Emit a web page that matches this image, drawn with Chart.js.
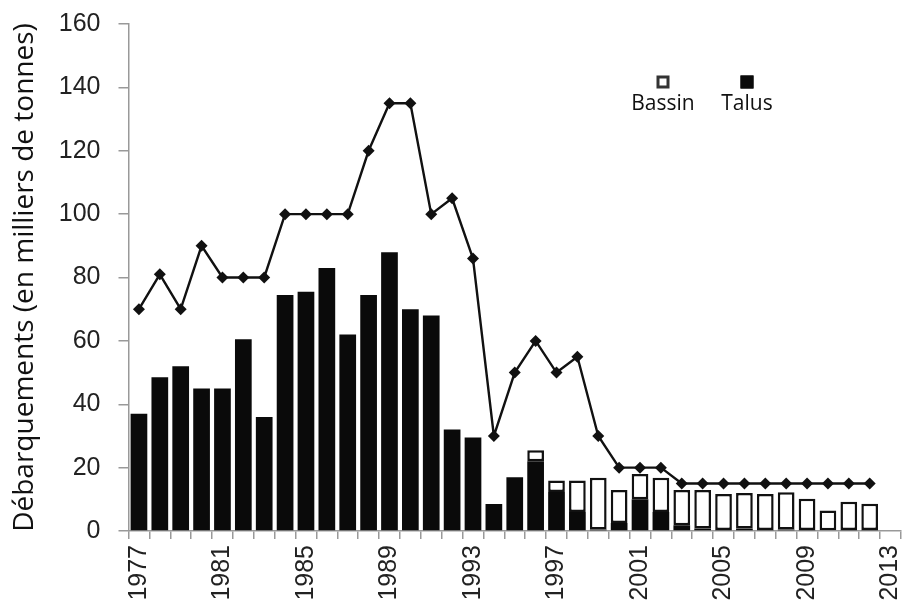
<!DOCTYPE html>
<html>
<head>
<meta charset="utf-8">
<script src="https://cdn.jsdelivr.net/npm/chart.js@4/dist/chart.umd.min.js"></script>
<style>
    html, body { margin: 0; padding: 0; background: #fff; }
    #wrap { width: 907px; height: 602px; }
</style>
</head>
<body>
<div id="wrap"><canvas id="chart" width="907" height="602"></canvas></div>
<script>
// années 1977-2013 (2013 sans données)
const years = [1977, 1978, 1979, 1980, 1981, 1982, 1983, 1984, 1985, 1986,
    1987, 1988, 1989, 1990, 1991, 1992, 1993, 1994, 1995, 1996,
    1997, 1998, 1999, 2000, 2001, 2002, 2003, 2004, 2005, 2006,
    2007, 2008, 2009, 2010, 2011, 2012, 2013];

// débarquements du talus (milliers de t)
const talus = [37, 48.5, 52, 45, 45, 60.5, 36, 74.5, 75.5, 83,
    62, 74.5, 88, 70, 68, 32, 29.5, 8.5, 17, 22,
    12.3, 6, 0.5, 2.5, 10, 6, 1.8, 0.8, 0.3, 0.8,
    0.3, 0.5, 0.3, 0.2, 0.3, 0.3, null];

// débarquements du bassin (milliers de t)
const bassin = [null, null, null, null, null, null, null, null, null, null,
    null, null, null, null, null, null, null, null, null, 3.5,
    3.6, 9.9, 16.3, 10.4, 8, 10.8, 11.1, 12.1, 11.4, 11.2,
    11.4, 11.7, 9.9, 6.3, 8.9, 8.3, null];

// ligne (TAC)
const tac = [70, 81, 70, 90, 80, 80, 80, 100, 100, 100,
    100, 120, 135, 135, 100, 105, 86, 30, 50, 60,
    50, 55, 30, 20, 20, 20, 15, 15, 15, 15,
    15, 15, 15, 15, 15, 15, null];

const yTicks = [0, 20, 40, 60, 80, 100, 120, 140, 160];
const yTitle = 'Débarquements (en milliers de tonnes)';

// petite légende : carré au-dessus du texte
const boxLegend = {
    id: 'boxLegend',
    afterDraw(chart, args, opts) {
        const ctx = chart.ctx;
        ctx.save();
        opts.items.forEach(item => {
            const ds = chart.data.datasets[item.ds];
            const s = 13;
            ctx.fillStyle = ds.backgroundColor;
            ctx.fillRect(item.x - s / 2, opts.boxY - s / 2, s, s);
            ctx.lineWidth = 3;
            ctx.strokeStyle = item.stroke;
            ctx.strokeRect(item.x - s / 2 + 1.5, opts.boxY - s / 2 + 1.5, s - 3, s - 3);
            ctx.fillStyle = '#111';
            ctx.font = '21px "Open Sans"';
            ctx.textAlign = 'center';
            ctx.textBaseline = 'middle';
            ctx.fillText(ds.label, item.x, opts.textY);
        });
        ctx.restore();
    }
};

new Chart(document.getElementById('chart'), {
    data: {
        labels: years,
        datasets: [
            {
                type: 'line',
                label: 'TAC',
                data: tac,
                borderColor: '#111',
                backgroundColor: '#111',
                borderWidth: 2.4,
                pointStyle: 'rectRot',
                pointRadius: 6,
                pointBackgroundColor: '#111',
                pointBorderWidth: 0,
                stack: 'tac',
                order: 0
            },
            {
                type: 'bar',
                label: 'Talus',
                data: talus,
                backgroundColor: '#0a0a0a',
                borderColor: '#0a0a0a',
                borderWidth: 0,
                stack: 'deb',
                order: 1
            },
            {
                type: 'bar',
                label: 'Bassin',
                data: bassin,
                backgroundColor: '#ffffff',
                borderColor: '#111',
                borderWidth: 2.5,
                borderSkipped: false,
                stack: 'deb',
                order: 2
            }
        ]
    },
    options: {
        responsive: false,
        animation: false,
        devicePixelRatio: 1,
        datasets: {
            bar: { barPercentage: 0.8, categoryPercentage: 1 }
        },
        layout: { padding: { top: 24, right: 1, left: 0, bottom: 0 } },
        plugins: {
            legend: { display: false },
            tooltip: { enabled: false },
            boxLegend: {
                boxY: 82,
                textY: 104,
                items: [
                    { ds: 2, x: 663, stroke: '#333' },
                    { ds: 1, x: 747, stroke: '#0a0a0a' }
                ]
            }
        },
        scales: {
            x: {
                stacked: true,
                border: { color: '#999', width: 1.5 },
                grid: { drawOnChartArea: false, offset: true, tickLength: 8, color: '#999', lineWidth: 1.5 },
                ticks: {
                    autoSkip: false,
                    minRotation: 90,
                    maxRotation: 90,
                    padding: 6,
                    color: '#222',
                    font: { family: '"Liberation Sans", Arial', size: 25 },
                    callback: function (val, i) {
                        const y = years[i];
                        return (y - 1977) % 4 === 0 ? String(y) : '';
                    }
                },
                afterFit: s => { s.height = 71; s.paddingLeft = 0; s.paddingRight = 0; }
            },
            y: {
                stacked: true,
                min: 0,
                max: 160,
                border: { color: '#999', width: 1.5 },
                grid: { drawOnChartArea: false, tickLength: 10, color: '#999', lineWidth: 1.5 },
                afterBuildTicks: s => { s.ticks = yTicks.map(v => ({ value: v })); },
                ticks: {
                    padding: 18,
                    color: '#222',
                    font: { family: '"Liberation Sans", Arial', size: 25 }
                },
                title: {
                    display: true,
                    text: yTitle,
                    color: '#111',
                    padding: { top: 8, bottom: 0 },
                    font: { family: '"Open Sans"', size: 28, weight: 'normal' }
                },
                afterFit: s => { s.width = 128.5; s.paddingTop = 0; s.paddingBottom = 0; }
            }
        }
    },
    plugins: [boxLegend]
});
</script>
</body>
</html>
